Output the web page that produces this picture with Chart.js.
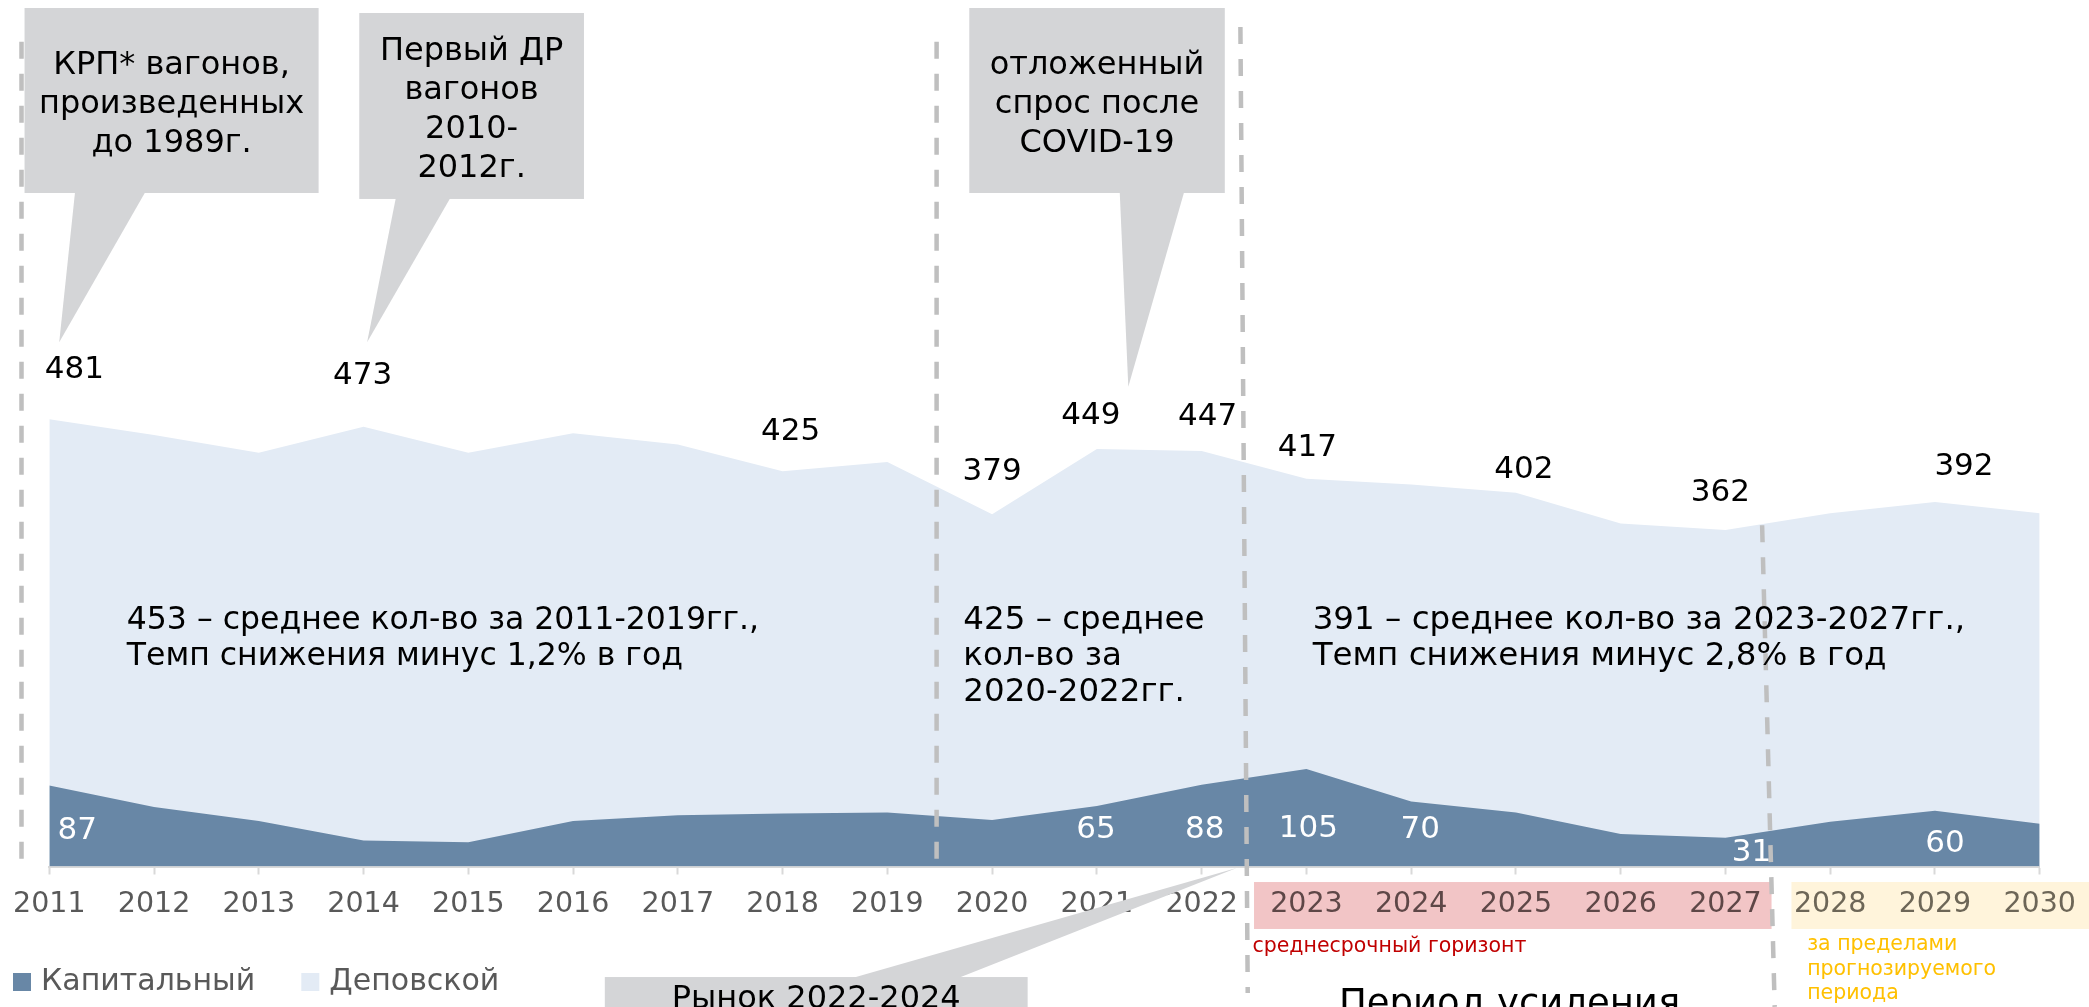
<!DOCTYPE html>
<html lang="ru">
<head>
<meta charset="utf-8">
<title>Ремонт вагонов 2011-2030</title>
<script src="https://cdn.jsdelivr.net/npm/chart.js@4.4.0/dist/chart.umd.min.js"></script>
<style>
    html, body { margin: 0; padding: 0; background: #fff; }
    #wrap { position: relative; width: 2089px; height: 1007px; overflow: hidden; }
    canvas { display: block; }
</style>
</head>
<body>
<div id="wrap"><canvas id="repairChart" width="2089" height="1007"></canvas></div>
<script>
// data
const years = ['2011', '2012', '2013', '2014', '2015', '2016', '2017', '2018', '2019', '2020',
               '2021', '2022', '2023', '2024', '2025', '2026', '2027', '2028', '2029', '2030'];
const capitalRepair = [87, 64, 49, 28, 26, 49, 55, 57, 58, 50, 65, 88, 105, 70, 58, 35, 31, 48, 60, 46];
const depotRepair = [481, 464, 445, 473, 445, 466, 454, 425, 435, 379, 449, 447, 417, 411, 402, 369, 362, 380, 392, 380];
const depotLabelYears = ['2011', '2014', '2018', '2020', '2021', '2022', '2023', '2025', '2027', '2029'];
const capitalLabelYears = ['2011', '2021', '2022', '2023', '2024', '2027', '2029'];
const midTermYears = ['2023', '2024', '2025', '2026', '2027'];
const beyondYears = ['2028', '2029', '2030'];

const FONT = '"DejaVu Sans", Verdana, sans-serif';
const COLORS = {
    capital: '#6887a6',
    depot: '#e3ebf5',
    callout: '#d4d5d7',
    guide: '#bfbfbf',
    axisText: '#595959',
    midBand: '#f2c5c6',
    beyondBand: '#fff4db'
};

// label nudges in px: [dx, dy] (depot: from point, capital: from baseline)
const depotNudge = { '2011': [25, -49], '2014': [-1, -51], '2018': [8, -39], '2020': [0, -42], '2021': [-6, -33],
                     '2022': [6, -34], '2023': [1, -31], '2025': [8, -23], '2027': [-5, -37], '2029': [29, -35] };
const capitalNudge = { '2011': [28, -36], '2021': [-1, -37], '2022': [3, -37], '2023': [2, -38], '2024': [9, -37],
                       '2027': [26, -14], '2029': [10, -23] };

// annotations in axis units (x = category index, y = value)
const guides = [
    { from: [-0.265, 887], to: [-0.265, 5] },
    { from: [8.47, 887], to: [8.47, 8] },
    { from: [11.37, 903], to: [11.44, -136] },
    { from: [16.35, 367], to: [16.47, -151] }
];
const callouts = [
    { lines: ['КРП* вагонов,', 'произведенных', 'до 1989г.'], box: [-0.236, 923.4, 2.571, 724.4], base: [0.246, 0.917], tip: [0.095, 564] },
    { lines: ['Первый ДР', 'вагонов', '2010-', '2012г.'], box: [2.959, 918, 5.104, 718], base: [3.308, 3.828], tip: [3.034, 564] },
    { lines: ['отложенный', 'спрос после', 'COVID-19'], box: [8.782, 923.4, 11.221, 724.4], base: [10.218, 10.833], tip: [10.30, 516] }
];
const notes = [
    { lines: ['453 – среднее кол-во за 2011-2019гг.,', 'Темп снижения минус 1,2% в год'], at: [0.74, 264], size: 31.5 },
    { lines: ['425 – среднее', 'кол-во за', '2020-2022гг.'], at: [8.725, 264], size: 32.5 },
    { lines: ['391 – среднее кол-во за 2023-2027гг.,', 'Темп снижения минус 2,8% в год'], at: [12.06, 264], size: 32.5 }
];

function setFont(ctx, size) {
    ctx.font = size + 'px ' + FONT;
}

function drawText(ctx, str, x, y, size, color, align, baseline) {
    setFont(ctx, size);
    ctx.fillStyle = color;
    ctx.textAlign = align || 'left';
    ctx.textBaseline = baseline || 'middle';
    ctx.fillText(str, x, y);
}

const decorPlugin = {
    id: 'decor',
    beforeDraw(chart) {
        const ctx = chart.ctx;
        const xs = chart.scales.x, ys = chart.scales.y;
        const top = ys.getPixelForValue(-16.7), bottom = ys.getPixelForValue(-67.2);
        ctx.save();
        ctx.fillStyle = COLORS.midBand;
        const m0 = xs.getPixelForValue(years.indexOf(midTermYears[0]) - 0.5);
        const m1 = xs.getPixelForValue(years.indexOf(midTermYears[midTermYears.length - 1]) + 0.44);
        ctx.fillRect(m0, top, m1 - m0, bottom - top);
        ctx.fillStyle = COLORS.beyondBand;
        const b0 = xs.getPixelForValue(years.indexOf(beyondYears[0]) - 0.37);
        ctx.fillRect(b0, top, chart.width - b0, bottom - top);
        ctx.restore();
    },
    afterDatasetsDraw(chart) {
        const ctx = chart.ctx;
        const xs = chart.scales.x, ys = chart.scales.y;
        ctx.save();
        // dashed dividers
        ctx.strokeStyle = COLORS.guide;
        ctx.lineWidth = 4.5;
        ctx.setLineDash([17, 15]);
        guides.forEach(g => {
            ctx.beginPath();
            ctx.moveTo(xs.getPixelForValue(g.from[0]), ys.getPixelForValue(g.from[1]));
            ctx.lineTo(xs.getPixelForValue(g.to[0]), ys.getPixelForValue(g.to[1]));
            ctx.stroke();
        });
        ctx.setLineDash([]);
        // value labels
        depotLabelYears.forEach(y => {
            const i = years.indexOf(y);
            const n = depotNudge[y] || [0, -40];
            drawText(ctx, String(depotRepair[i]), xs.getPixelForValue(i) + n[0], ys.getPixelForValue(depotRepair[i]) + n[1], 31, '#000', 'center');
        });
        capitalLabelYears.forEach(y => {
            const i = years.indexOf(y);
            const n = capitalNudge[y] || [0, -36];
            drawText(ctx, String(capitalRepair[i]), xs.getPixelForValue(i) + n[0], ys.getPixelForValue(0) + n[1], 31, '#fff', 'center');
        });
        ctx.restore();
    },
    afterDraw(chart) {
        const ctx = chart.ctx;
        const xs = chart.scales.x, ys = chart.scales.y;
        const px = v => xs.getPixelForValue(v);
        const py = v => ys.getPixelForValue(v);
        ctx.save();

        // callouts above the chart
        callouts.forEach(c => {
            const x0 = px(c.box[0]), y0 = py(c.box[1]), x1 = px(c.box[2]), y1 = py(c.box[3]);
            ctx.fillStyle = COLORS.callout;
            ctx.beginPath();
            ctx.moveTo(px(c.base[0]), y1 - 1);
            ctx.lineTo(px(c.base[1]), y1 - 1);
            ctx.lineTo(px(c.tip[0]), py(c.tip[1]));
            ctx.closePath();
            ctx.fill();
            ctx.fillRect(x0, y0, x1 - x0, y1 - y0);
            const lh = 39;
            const cy = (y0 + y1) / 2 + 4 - (c.lines.length - 1) * lh / 2;
            c.lines.forEach((line, k) => drawText(ctx, line, (x0 + x1) / 2, cy + k * lh, 32, '#000', 'center'));
        });

        // bottom callout "Рынок 2022-2024"
        const rx0 = px(5.303), rx1 = px(9.339), ry0 = py(-118.9);
        ctx.fillStyle = COLORS.callout;
        ctx.beginPath();
        ctx.moveTo(px(7.666), ry0 + 1);
        ctx.lineTo(px(8.677), ry0 + 1);
        ctx.lineTo(px(11.334), py(-1.6));
        ctx.closePath();
        ctx.fill();
        ctx.fillRect(rx0, ry0, rx1 - rx0, chart.height - ry0 + 10);
        drawText(ctx, 'Рынок 2022-2024', (rx0 + rx1) / 2, py(-152), 32, '#000', 'center', 'alphabetic');

        drawText(ctx, 'Период усиления', px(12.31), py(-159.7), 37, '#000', 'left', 'alphabetic');

        // period notes inside the area
        notes.forEach(n => {
            n.lines.forEach((line, k) => drawText(ctx, line, px(n.at[0]), py(n.at[1]) + k * 36, n.size, '#000'));
        });

        // horizon captions
        drawText(ctx, 'среднесрочный горизонт', px(11.485), py(-86.6), 20.5, '#c00000');
        ['за пределами', 'прогнозируемого', 'периода'].forEach((line, k) =>
            drawText(ctx, line, px(16.78), py(-84.4) + k * 24.5, 20.5, '#ffc000'));

        // legend
        const legendY = 982;
        let lx = 13;
        chart.data.datasets.forEach(ds => {
            ctx.fillStyle = ds.backgroundColor;
            ctx.fillRect(lx, legendY - 9, 18, 18);
            drawText(ctx, ds.label, lx + 28, legendY, 30, COLORS.axisText);
            setFont(ctx, 30);
            lx += 28 + ctx.measureText(ds.label).width + 46;
        });

        ctx.restore();
    }
};

const ctx = document.getElementById('repairChart');
new Chart(ctx, {
    type: 'line',
    data: {
        labels: years,
        datasets: [
            {
                label: 'Капитальный',
                data: capitalRepair,
                fill: 'origin',
                backgroundColor: COLORS.capital,
                borderColor: 'rgba(0,0,0,0)',
                borderWidth: 0,
                pointRadius: 0,
                tension: 0
            },
            {
                label: 'Деповской',
                data: depotRepair,
                fill: 'origin',
                backgroundColor: COLORS.depot,
                borderColor: 'rgba(0,0,0,0)',
                borderWidth: 0,
                pointRadius: 0,
                tension: 0
            }
        ]
    },
    options: {
        responsive: false,
        animation: false,
        layout: { padding: { left: 41, right: 37, top: 0, bottom: 0 } },
        plugins: {
            legend: { display: false },
            tooltip: { enabled: false }
        },
        scales: {
            x: {
                offset: false,
                grid: { drawOnChartArea: false, drawTicks: true, tickLength: 8, tickColor: '#d9d9d9', tickWidth: 2 },
                border: { color: '#d9d9d9', width: 2 },
                ticks: {
                    autoSkip: false,
                    maxRotation: 0,
                    padding: 13,
                    font: { family: FONT, size: 28.5 },
                    color: c => {
                        const y = years[c.index];
                        if (midTermYears.includes(y)) return '#5e4747';
                        if (beyondYears.includes(y)) return '#6d6657';
                        return COLORS.axisText;
                    }
                },
                afterFit: scale => { scale.height = 140.5; }
            },
            y: { display: false, min: 0, max: 932 }
        }
    },
    plugins: [decorPlugin]
});
</script>
</body>
</html>
